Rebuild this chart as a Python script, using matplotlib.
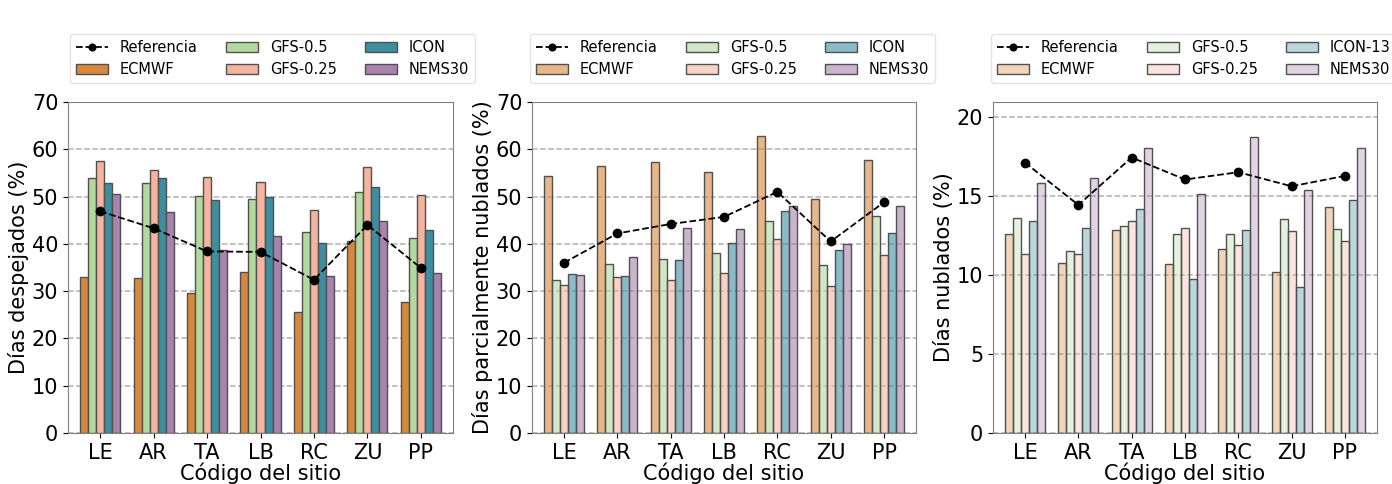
import matplotlib
matplotlib.use('Agg')
import matplotlib.pyplot as plt
from matplotlib.colors import to_rgba
import numpy as np

sites = ['LE', 'AR', 'TA', 'LB', 'RC', 'ZU', 'PP']
models = ['ECMWF', 'GFS-0.5', 'GFS-0.25', 'ICON', 'NEMS30']
models_c = ['ECMWF', 'GFS-0.5', 'GFS-0.25', 'ICON-13', 'NEMS30']
colors = ['#d8883c', '#b3d8a0', '#f4b4a0', '#3d8fa0', '#a982ad']

# dias despejados (%)
desp_ref = [46.9, 43.3, 38.4, 38.3, 32.4, 44.0, 34.9]
desp_ecmwf = [33.0, 32.8, 29.7, 34.0, 25.5, 40.5, 27.8]
desp_gfs05 = [54.0, 52.8, 50.2, 49.5, 42.5, 51.0, 41.3]
desp_gfs025 = [57.5, 55.7, 54.2, 53.0, 47.2, 56.3, 50.3]
desp_icon = [52.8, 53.9, 49.3, 50.0, 40.2, 52.1, 43.0]
desp_nems = [50.6, 46.7, 38.6, 41.7, 33.1, 44.8, 33.9]

# dias parcialmente nublados (%)
parc_ref = [36.0, 42.2, 44.2, 45.7, 51.0, 40.5, 48.8]
parc_ecmwf = [54.3, 56.4, 57.4, 55.2, 62.8, 49.5, 57.8]
parc_gfs05 = [32.3, 35.7, 36.7, 38.0, 44.9, 35.5, 45.9]
parc_gfs025 = [31.2, 32.9, 32.4, 33.9, 41.0, 31.0, 37.6]
parc_icon = [33.6, 33.1, 36.5, 40.1, 47.0, 38.6, 42.3]
parc_nems = [33.5, 37.2, 43.3, 43.2, 48.1, 39.9, 48.0]

# dias nublados (%)
nub_ref = [17.1, 14.42, 17.42, 16.03, 16.49, 15.6, 16.26]
nub_ecmwf = [12.56, 10.74, 12.85, 10.66, 11.63, 10.21, 14.27]
nub_gfs05 = [13.62, 11.52, 13.07, 12.6, 12.58, 13.55, 12.9]
nub_gfs025 = [11.35, 11.31, 13.38, 12.94, 11.88, 12.77, 12.11]
nub_icon = [13.4, 12.94, 14.16, 9.75, 12.83, 9.22, 14.74]
nub_nems = [15.81, 16.13, 18.05, 15.12, 18.71, 15.35, 18.01]

fig = plt.figure(figsize=(13.92, 4.84), dpi=100)

def panel(rect, ref, series, names, alpha, ylabel, ylim, yticks, leg_x):
    ax = fig.add_axes(rect)
    x = np.arange(len(sites))
    w = 0.15
    ax.set_axisbelow(True)
    ax.yaxis.grid(True, linestyle='--', color='#b0b0b0', linewidth=1.1)
    bars = []
    for k, vals in enumerate(series):
        b = ax.bar(x + (k - 2) * w, vals, w, facecolor=to_rgba(colors[k], alpha),
                   edgecolor='#505050', linewidth=1.0, label=names[k])
        bars.append(b)
    ln, = ax.plot(x, ref, 'k--', marker='o', markersize=6, linewidth=1.3,
                  label='Referencia')
    ax.set_xticks(x)
    ax.set_xticklabels(sites, fontsize=15)
    ax.set_yticks(yticks)
    ax.tick_params(axis='y', labelsize=15)
    ax.set_ylim(*ylim)
    ax.set_xlim(-0.6, 6.6)
    ax.set_xlabel('Código del sitio', fontsize=15, labelpad=0)
    ax.set_ylabel(ylabel, fontsize=15, labelpad=2)
    for s in ax.spines.values():
        s.set_color('#808080')
    handles = [ln] + bars
    labels = ['Referencia'] + names
    fig.legend(handles, labels, ncol=3, fontsize=10.5, loc='upper left',
               bbox_to_anchor=(leg_x, 1 - 27 / 484), bbox_transform=fig.transFigure,
               handlelength=2.2, columnspacing=1.95, framealpha=0.8,
               markerscale=0.8, edgecolor='#dddddd')
    return ax

panel([68 / 1392, 51 / 484, 385 / 1392, 331 / 484], desp_ref,
      [desp_ecmwf, desp_gfs05, desp_gfs025, desp_icon, desp_nems], models, 1.0,
      'Días despejados (%)', (0, 70), range(0, 71, 10), 63 / 1392)
panel([532 / 1392, 51 / 484, 384 / 1392, 331 / 484], parc_ref,
      [parc_ecmwf, parc_gfs05, parc_gfs025, parc_icon, parc_nems], models, 0.6,
      'Días parcialmente nublados (%)', (0, 70), range(0, 71, 10), 523 / 1392)
panel([993 / 1392, 51 / 484, 384 / 1392, 331 / 484], nub_ref,
      [nub_ecmwf, nub_gfs05, nub_gfs025, nub_icon, nub_nems], models_c, 0.35,
      'Días nublados (%)', (0, 20.93), range(0, 21, 5), 984 / 1392)

fig.savefig('out.png', dpi=100)
